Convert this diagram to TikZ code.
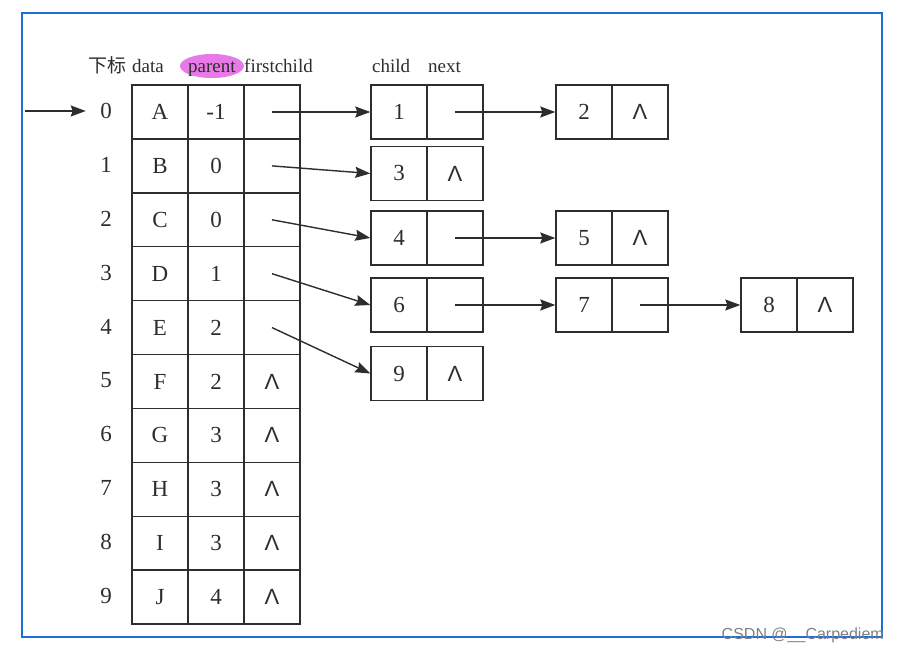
\documentclass[tikz,border=0pt]{standalone}
\usepackage{fontspec}
\setmainfont{Liberation Serif}
\newfontfamily\cjk{Noto Sans CJK SC}
\newfontfamily\wmfont{Liberation Sans}
\usetikzlibrary{arrows.meta}
\definecolor{FrameBlue}{RGB}{30,110,215}
\definecolor{Marker}{RGB}{232,122,232}
\definecolor{LineGray}{RGB}{45,45,45}

\begin{document}
\begin{tikzpicture}[x=1pt,y=-1pt,
  cell/.style={draw=LineGray,line width=1.4pt,minimum width=56pt,minimum height=54pt,inner sep=0pt,text=LineGray,font=\fontsize{23}{26}\selectfont},
  head/.style={anchor=base west,inner sep=0pt,text=LineGray,font=\fontsize{19}{22}\selectfont},
  arr/.style={draw=LineGray,line width=1.4pt,-{Stealth[length=15pt,width=11pt,inset=2pt]}}]
\def\nul{{\wmfont\fontsize{22}{24}\selectfont Λ}}
\useasboundingbox (0,0) rectangle (900,652);
\draw[FrameBlue,line width=2.5pt] (22,13) rectangle (882,637);

% header
\fill[Marker] (212,66) ellipse (32 and 12);
\node[head] (hidx) at (88,73) {\cjk 下标};
\node[head] (hdata) at (132,73) {data};
\node[head] (hpar) at (188,73) {parent};
\node[head] (hfc) at (244,73) {firstchild};
\node[head] (hchild) at (372,73) {child};
\node[head] (hnext) at (428,73) {next};

% table
\foreach \i/\d/\p/\f in {0/A/-1/{},1/B/0/{},2/C/0/{},3/D/1/{},4/E/2/{},5/F/2/\nul,6/G/3/\nul,7/H/3/\nul,8/I/3/\nul,9/J/4/\nul} {
  \pgfmathsetmacro\y{112+53.9*\i}
  \node[text=LineGray,font=\fontsize{23}{26}\selectfont] (idx\i) at (106,\y-1) {\i};
  \node[cell] (data\i) at (160,\y) {\d};
  \node[cell] (par\i) at (216,\y) {\p};
  \node[cell] (fc\i) at (272,\y) {\f};
}
\coordinate (start) at (25,111);
\draw[arr,shorten >=11pt] (start) -- (idx0.west);

% child lists
\node[cell] (c1) at (399,112) {1};   \node[cell] (n1) at (455,112) {};
\node[cell] (c2) at (584,112) {2};   \node[cell] (n2) at (640,112) {\nul};
\node[cell] (c3) at (399,173.5) {3}; \node[cell] (n3) at (455,173.5) {\nul};
\node[cell] (c4) at (399,238) {4};   \node[cell] (n4) at (455,238) {};
\node[cell] (c5) at (584,238) {5};   \node[cell] (n5) at (640,238) {\nul};
\node[cell] (c6) at (399,305) {6};   \node[cell] (n6) at (455,305) {};
\node[cell] (c7) at (584,305) {7};   \node[cell] (n7) at (640,305) {};
\node[cell] (c8) at (769,305) {8};   \node[cell] (n8) at (825,305) {\nul};
\node[cell] (c9) at (399,373.5) {9}; \node[cell] (n9) at (455,373.5) {\nul};

\draw[arr] (fc0.center) -- (c1.west);
\draw[arr] (n1.center) -- (c2.west);
\draw[arr] (fc1.center) -- (c3.west);
\draw[arr] (fc2.center) -- (c4.west);
\draw[arr] (n4.center) -- (c5.west);
\draw[arr] (fc3.center) -- (c6.west);
\draw[arr] (n6.center) -- (c7.west);
\draw[arr] (n7.center) -- (c8.west);
\draw[arr] (fc4.center) -- (c9.west);

\node[anchor=base east,inner sep=0pt,text=black!50,font=\wmfont\fontsize{16}{18}\selectfont] (wm) at (884,639) {CSDN @\_\_Carpediem};
\end{tikzpicture}
\end{document}
